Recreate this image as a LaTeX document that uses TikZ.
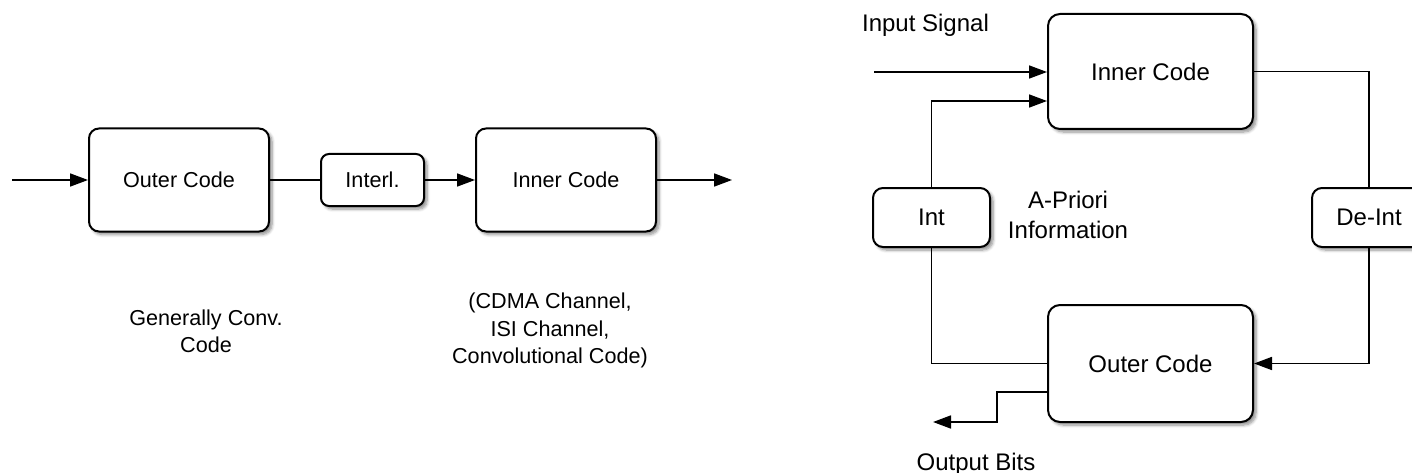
\documentclass[tikz,border=0pt]{standalone}
\usepackage{fontspec}
\setmainfont{Liberation Sans}
\usetikzlibrary{arrows.meta,shadows.blur}
\tikzset{
  blk/.style={draw=black, line width=2pt, fill=white, rounded corners=10pt,
    inner sep=0pt, anchor=center,
    blur shadow={shadow xshift=3pt, shadow yshift=-3pt, shadow blur radius=3pt, shadow blur steps=6, shadow opacity=45}},
  fsl/.style={font=\fontsize{21.6}{27.5}\selectfont},
  fsr/.style={font=\fontsize{24}{30}\selectfont},
  conn/.style={line width=1.7pt, draw=black},
  arr/.style={conn, -{Triangle[length=18pt,width=13pt]}},
  lbl/.style={inner sep=0pt, align=center}
}
\begin{document}
\begin{tikzpicture}[x=1pt,y=-1pt]
\useasboundingbox (0,0) rectangle (1412,473);
% ---------- left diagram ----------
\node[blk, fsl, minimum width=180pt, minimum height=103pt] (outerL) at (179,180) {Outer Code};
\node[blk, fsl, rounded corners=8pt, minimum width=103pt, minimum height=52pt] (interl) at (372.5,180) {Interl.};
\node[blk, fsl, minimum width=180pt, minimum height=103pt] (innerL) at (566,180) {Inner Code};
\coordinate (inL) at (12,180);
\coordinate (outL) at (732,180);
\draw[arr] (inL) -- (outerL.west);
\draw[conn] (outerL.east) -- (interl.west);
\draw[arr] (interl.east) -- (innerL.west);
\draw[arr] (innerL.east) -- (outL);
\node[lbl, fsl, anchor=north] (gen) at (206,309.5) {Generally Conv.\\Code};
\node[lbl, fsl, anchor=north] (cdma) at (550,293) {(CDMA Channel,\\ISI Channel,\\Convolutional Code)};
% ---------- right diagram ----------
\node[blk, fsr, rounded corners=12pt, minimum width=205pt, minimum height=115pt] (innerR) at (1150.5,71.5) {Inner Code};
\node[blk, fsr, rounded corners=12pt, minimum width=205pt, minimum height=117pt] (outerR) at (1150.5,363.5) {Outer Code};
\node[blk, fsr, minimum width=117pt, minimum height=59pt] (int) at (931.5,217.5) {Int};
\node[blk, fsr, minimum width=114pt, minimum height=59pt] (deint) at (1369,217.5) {De-Int};
\node[lbl, fsr, anchor=base] (insig) at (925.5,32) {Input Signal};
\node[lbl, fsr, anchor=north] (apriori) at (1068,191) {A-Priori\\Information};
\node[lbl, fsr, anchor=base] (outbits) at (976,470) {Output Bits};
\coordinate (inR) at (874,72);
\coordinate (outEnd) at (933,422);
\draw[arr] (inR) -- (inR -| innerR.west);
\draw[arr] (int.north) |- ([yshift=-29.5pt]innerR.west);
\draw[conn] (innerR.east) -| (deint.north);
\draw[arr] (deint.south) |- (outerR.east);
\draw[conn] (int.south) |- (outerR.west);
\draw[arr] ([yshift=-28.5pt]outerR.west) -- ++(-50,0) |- (outEnd);
\end{tikzpicture}
\end{document}
